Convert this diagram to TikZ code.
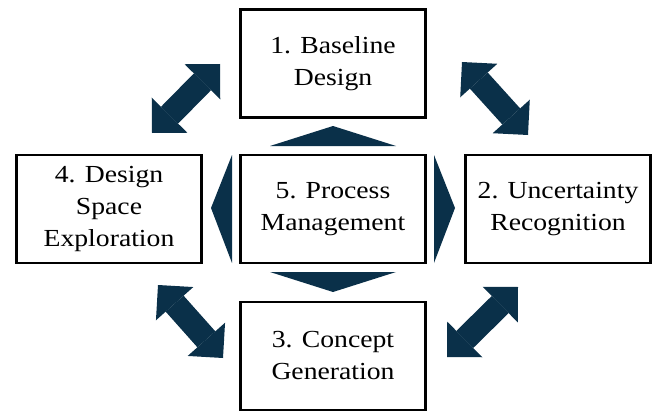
\documentclass[tikz,border=0pt]{standalone}
\usepackage{fontspec}
\setmainfont{Liberation Serif}[FakeStretch=1.13]
\usepackage{tikz}
\usetikzlibrary{arrows.meta}
\definecolor{navy}{HTML}{0A3049}

\begin{document}
\begin{tikzpicture}[x=1pt,y=-1pt,
  box/.style={draw,line width=2.8pt,minimum width=185pt,minimum height=108pt,align=center,
    font=\fontsize{24.5pt}{32pt}\selectfont},
  dbl/.style={{Triangle[length=25pt,width=50pt,line width=0pt]}-{Triangle[length=25pt,width=50pt,line width=0pt]},
    line width=24pt,draw=navy},
  tri/.style={fill=navy}]
	\useasboundingbox (0,0) rectangle (653,412);

	% The boxes
	\node [box] at (333,63.5) (bd) {1. Baseline\\Design};
	\node [box] at (558,209) (ur) {2. Uncertainty\\Recognition};
	\node [box] at (333,356) (cg) {3. Concept\\Generation};
	\node [box] at (109,209) (dse) {4. Design\\Space\\Exploration};
	\node [box] at (333,209) (pm) {5. Process\\Management};

	% Arrow ends
	\coordinate (dse1) at (152,133);
	\coordinate (bd4) at (220,64);
	\coordinate (bd2) at (462,62);
	\coordinate (ur1) at (528,135);
	\coordinate (dse3) at (158,285);
	\coordinate (cg4) at (223,358);
	\coordinate (ur3) at (518,287);
	\coordinate (cg2) at (447,357);

	% Double arrows
	\draw [dbl] (dse1) -- (bd4);
	\draw [dbl] (bd2) -- (ur1);
	\draw [dbl] (dse3) -- (cg4);
	\draw [dbl] (ur3) -- (cg2);

	% Triangles round box 5
	\fill [tri] (270,146) -- (333,126) -- (396,146) -- cycle;
	\fill [tri] (270,272) -- (333,292) -- (396,272) -- cycle;
	\fill [tri] (232,155) -- (211,208) -- (232,263) -- cycle;
	\fill [tri] (434,155) -- (455,208) -- (434,263) -- cycle;

\end{tikzpicture}
\end{document}
